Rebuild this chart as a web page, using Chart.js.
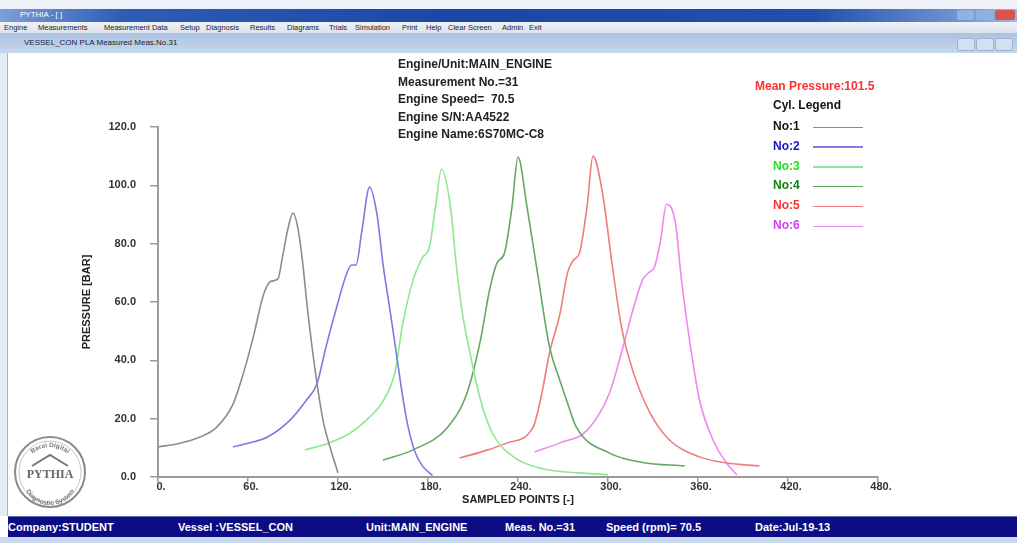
<!DOCTYPE html>
<html>
<head>
<meta charset="utf-8">
<script src="https://cdn.jsdelivr.net/npm/chart.js@4.4.1/dist/chart.umd.min.js"></script>
<style>
body { margin:0; width:1017px; height:543px; overflow:hidden; background:#fff; position:relative;
       font-family:"Liberation Sans", Arial, sans-serif; }
.abs { position:absolute; }
#topstrip { left:0; top:0; width:1017px; height:9px; background:#eef2f8; }
#titlebar { left:0; top:9px; width:1017px; height:13px;
  background:linear-gradient(90deg,#7c9fd6 0%,#2d5db6 12%,#1a47a4 45%,#2050ac 80%,#6f93d0 94%,#9ab6e2 100%); }
#titlebar span { position:absolute; left:20px; top:1px; font-size:8px; color:#fff; }
#btns { right:2px; top:10px; width:58px; height:10px; }
#btns div { position:absolute; top:0; height:10px; border-radius:2px; }
#menubar { left:0; top:22px; width:1017px; height:11px; background:linear-gradient(#eef1f7,#dde3ee); }
#menubar span { position:absolute; top:1px; font-size:7.5px; color:#222; white-space:nowrap; }
#childbar { left:0; top:33px; width:1017px; height:20px; background:linear-gradient(#aac2e0,#c6d7ec); }
#childbar span { position:absolute; left:24px; top:5px; font-size:8px; color:#223; }
#childbtns { right:4px; top:38px; width:56px; height:11px; }
#childbtns div { position:absolute; top:0; height:11px; background:#d4e0f0; border:1px solid #9fb4d2; border-radius:2px; }
#leftborder { left:0; top:53px; width:7px; height:463px; background:#e4ecf6; border-right:1px solid #9fb3cf; }
#statusbar { left:8px; top:516px; width:1009px; height:21px; background:#0c0c84; border-top:1px solid #5a6ab0; }
#statusbar span { position:absolute; top:4px; font-size:11px; font-weight:bold; color:#fff; white-space:nowrap; }
#bottomstrip { left:0; top:537px; width:1017px; height:6px; background:#c9d8ee; }
#chart { left:0; top:53px; }
.info { font-size:12px; font-weight:bold; color:#222; white-space:nowrap; }
.leg { font-size:12px; font-weight:bold; white-space:nowrap; }
.legline { height:1.5px; width:50px; }
</style>
</head>
<body>
<div id="topstrip" class="abs"></div>
<div id="titlebar" class="abs"><span>PYTHIA - [ ]</span></div>
<div id="btns" class="abs">
  <div style="left:0;width:17px;background:#8fb0e0"></div>
  <div style="left:19px;width:17px;background:#8fb0e0"></div>
  <div style="left:38px;width:20px;background:#d9534f"></div>
</div>
<div id="menubar" class="abs">
  <span style="left:4px">Engine</span>
  <span style="left:38px">Measurements</span>
  <span style="left:104px">Measurement Data</span>
  <span style="left:180px">Setup</span>
  <span style="left:206px">Diagnosis</span>
  <span style="left:250px">Results</span>
  <span style="left:287px">Diagrams</span>
  <span style="left:329px">Trials</span>
  <span style="left:355px">Simulation</span>
  <span style="left:402px">Print</span>
  <span style="left:426px">Help</span>
  <span style="left:448px">Clear Screen</span>
  <span style="left:502px">Admin</span>
  <span style="left:529px">Exit</span>
</div>
<div id="childbar" class="abs"><span>VESSEL_CON PLA Measured Meas.No.31</span></div>
<div id="childbtns" class="abs">
  <div style="left:0;width:16px"></div>
  <div style="left:19px;width:16px"></div>
  <div style="left:38px;width:16px"></div>
</div>
<div id="leftborder" class="abs"></div>

<canvas id="chart" class="abs" width="1017" height="463"></canvas>

<div class="abs info" style="left:398px;top:57px">Engine/Unit:MAIN_ENGINE</div>
<div class="abs info" style="left:398px;top:75px">Measurement No.=31</div>
<div class="abs info" style="left:398px;top:92px">Engine Speed=&nbsp; 70.5</div>
<div class="abs info" style="left:398px;top:110px">Engine S/N:AA4522</div>
<div class="abs info" style="left:398px;top:127px">Engine Name:6S70MC-C8</div>

<div class="abs leg" style="left:755px;top:79px;color:#ff3030">Mean Pressure:101.5</div>
<div class="abs leg" style="left:773px;top:98px;color:#111">Cyl. Legend</div>
<div id="legend"></div>

<svg class="abs" style="left:12px;top:433px" width="76" height="78" viewBox="0 0 76 78">
  <defs>
    <path id="arcTop" d="M 12 40 A 26 26 0 0 1 64 40"/>
    <path id="arcBot" d="M 10 44 A 28 28 0 0 0 66 44"/>
  </defs>
  <circle cx="38" cy="39" r="35" fill="#fff" stroke="#8a8a8a" stroke-width="2"/>
  <circle cx="38" cy="39" r="31" fill="none" stroke="#c8c8c8" stroke-width="1"/>
  <text font-size="6.5" font-weight="bold" fill="#777"><textPath href="#arcTop" startOffset="50%" text-anchor="middle">Barai Digital</textPath></text>
  <text font-size="6.5" font-weight="bold" fill="#777"><textPath href="#arcBot" startOffset="50%" text-anchor="middle">Diagnostic System</textPath></text>
  <path d="M 20 33 L 38 22 L 56 33" fill="none" stroke="#777" stroke-width="2"/>
  <text x="38" y="45" font-size="12" font-weight="bold" fill="#666" text-anchor="middle" font-family="Liberation Serif, serif">PYTHIA</text>
</svg>

<div id="statusbar" class="abs">
  <span style="left:0px">Company:STUDENT</span>
  <span style="left:170px">Vessel :VESSEL_CON</span>
  <span style="left:358px">Unit:MAIN_ENGINE</span>
  <span style="left:497px">Meas. No.=31</span>
  <span style="left:598px">Speed (rpm)= 70.5</span>
  <span style="left:747px">Date:Jul-19-13</span>
</div>
<div id="bottomstrip" class="abs"></div>

<script>
// axis ticks
const xTicks = [0, 60, 120, 180, 240, 300, 360, 420, 480];
const yTicks = [0, 20, 40, 60, 80, 100, 120];

// cylinder traces: sampled point / pressure [bar]
const cyl1X = [0, 14, 28, 39, 50, 57, 64, 70, 75, 80, 83, 87, 90, 93, 96, 100, 105, 110, 116, 120];
const cyl1P = [10.3, 11.5, 13.7, 17, 25, 35.7, 49, 62, 67, 68, 75.5, 86, 90.5, 86, 75.5, 56, 35.7, 19.5, 8, 1.4];

const cyl2X = [50, 62, 73, 88, 99, 106, 112, 119, 125, 129, 132, 136, 141, 146, 150, 155, 159, 163, 166, 171, 176, 183];
const cyl2P = [10.3, 11.8, 13.7, 19.5, 26.4, 32, 44.6, 58, 68.6, 72.7, 72.7, 84.7, 99.4, 90, 73, 56, 42, 28, 19, 9, 4, 0.5];

const cyl3X = [98, 113, 128, 140, 150, 158, 163, 170, 176, 181, 185, 189, 195, 199, 203, 208, 215, 223, 237, 255, 281, 300];
const cyl3P = [9.3, 11.5, 15, 20, 26, 36, 52, 67.5, 75, 79, 92.6, 105.5, 92.6, 72, 56, 42.5, 26.4, 15, 6.9, 3, 1.4, 0.8];

const cyl4X = [150, 170, 193, 206, 215, 221, 226, 231, 236, 240, 246, 253, 261, 268, 273, 279, 301, 323, 351];
const cyl4P = [5.8, 9.3, 17, 28.8, 47, 64, 73.4, 76.8, 92.6, 109.7, 92.6, 70, 44.6, 33, 25.4, 17, 8.2, 5, 3.8];

const cyl5X = [201, 220, 233, 250, 256, 261, 268, 273, 277, 281, 286, 290, 296, 303, 309, 317, 328, 341, 361, 379, 401];
const cyl5P = [6.5, 9.3, 11.7, 17, 29, 42.5, 56, 70, 74.4, 76.8, 92.6, 110, 98.4, 72, 51.4, 35.7, 22, 12.7, 6.9, 4.8, 3.8];

const cyl6X = [251, 268, 286, 301, 310, 317, 323, 327, 331, 335, 339, 345, 349, 355, 361, 370, 379, 386];
const cyl6P = [8.6, 11.7, 16, 28.8, 44.6, 58, 67.5, 70, 72, 81, 93.5, 87, 67.5, 44.6, 26.4, 12.7, 4.8, 0.7];

const cylNames = ["No:1", "No:2", "No:3", "No:4", "No:5", "No:6"];
const lineColors = ["#8c8c8c", "#7b7be0", "#8ee88e", "#62a862", "#ee7d7d", "#ee88ee"];
const textColors = ["#111111", "#1515d0", "#22e022", "#108010", "#ff3030", "#d040f0"];

const cylX = [cyl1X, cyl2X, cyl3X, cyl4X, cyl5X, cyl6X];
const cylP = [cyl1P, cyl2P, cyl3P, cyl4P, cyl5P, cyl6P];

// legend (html, text left of a short line)
const legend = document.getElementById("legend");
cylNames.forEach(function (name, i) {
    const top = 119 + i * 19.8;
    const t = document.createElement("div");
    t.className = "abs leg";
    t.style.left = "773px";
    t.style.top = top + "px";
    t.style.color = textColors[i];
    t.textContent = name;
    legend.appendChild(t);
    const l = document.createElement("div");
    l.className = "abs legline";
    l.style.left = "813px";
    l.style.top = (top + 7.5) + "px";
    l.style.background = lineColors[i];
    legend.appendChild(l);
});

const datasets = cylNames.map(function (name, i) {
    return {
        label: name,
        data: cylX[i].map(function (x, j) { return { x: x, y: cylP[i][j] }; }),
        borderColor: lineColors[i],
        borderWidth: 1.6,
        pointRadius: 0,
        fill: false,
        cubicInterpolationMode: "monotone"
    };
});

const axisFont = { family: "Liberation Sans", size: 11, weight: "bold" };

new Chart(document.getElementById("chart"), {
    type: "line",
    data: { datasets: datasets },
    options: {
        responsive: false,
        animation: false,
        events: [],
        layout: { padding: { left: 60, top: 74, right: 139, bottom: 0 } },
        plugins: { legend: { display: false }, tooltip: { enabled: false } },
        scales: {
            x: {
                type: "linear",
                min: 0,
                max: 480,
                afterBuildTicks: function (s) { s.ticks = xTicks.map(function (v) { return { value: v }; }); },
                afterFit: function (s) { s.height = 39; },
                grid: { drawOnChartArea: false, drawTicks: true, tickLength: 5, color: "#9a9a9a", lineWidth: 1.5 },
                border: { color: "#9a9a9a", width: 2 },
                ticks: {
                    font: axisFont, color: "#333", padding: -2, labelOffset: 3, maxRotation: 0,
                    callback: function (v) { return v + "."; }
                },
                title: { display: true, text: "SAMPLED POINTS [-]", font: axisFont, color: "#222", padding: { top: 0, bottom: 9 } }
            },
            y: {
                min: 0,
                max: 120,
                afterBuildTicks: function (s) { s.ticks = yTicks.map(function (v) { return { value: v }; }); },
                afterFit: function (s) { s.width = 98; },
                grid: { drawOnChartArea: false, drawTicks: true, tickLength: 8, color: "#9a9a9a", lineWidth: 1.5 },
                border: { color: "#9a9a9a", width: 2 },
                ticks: {
                    font: axisFont, color: "#333", padding: 14,
                    callback: function (v) { return v.toFixed(1); }
                },
                title: { display: true, text: "PRESSURE [BAR]", font: axisFont, color: "#222", padding: { top: 20, bottom: 0 } }
            }
        }
    }
});
</script>
</body>
</html>
